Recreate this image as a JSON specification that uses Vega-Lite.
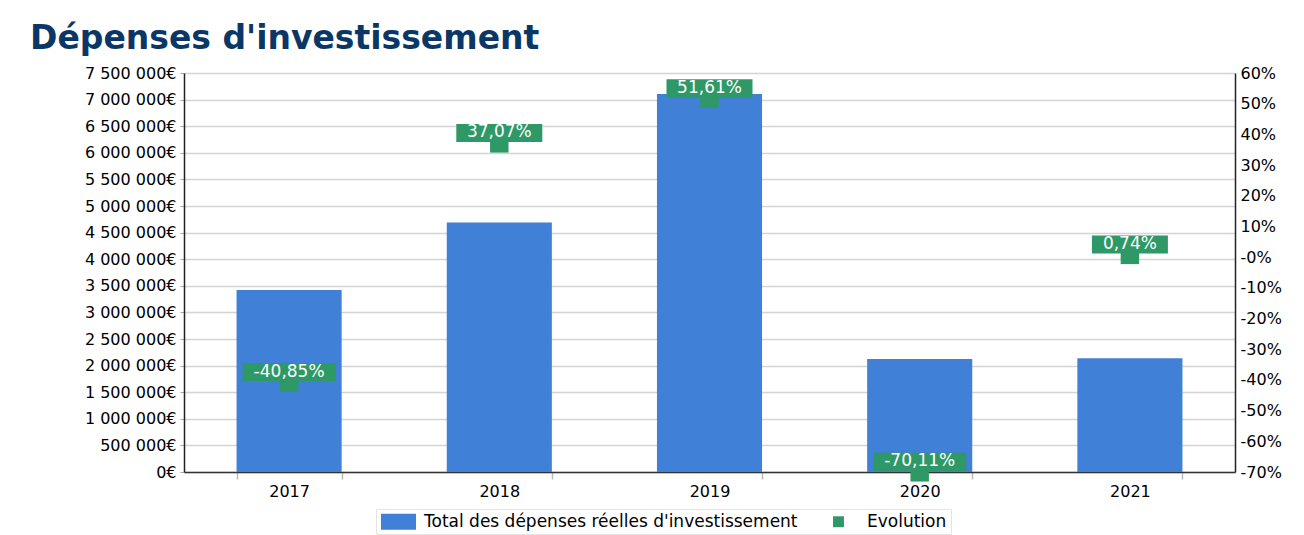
{
  "$schema": "https://vega.github.io/schema/vega-lite/v6.json",
  "autosize": {"type": "none"},
  "width": 1051,
  "height": 399,
  "padding": {"left": 184, "top": 73, "right": 69, "bottom": 63},
  "background": "white",
  "title": {
    "text": "Dépenses d'investissement",
    "anchor": "start",
    "frame": "group",
    "font": "DejaVu Sans",
    "fontSize": 33,
    "fontWeight": "bold",
    "color": "#0b3766",
    "dx": -154,
    "offset": 9
  },
  "data": {
    "values": [
      {"annee": "2017", "total": 3420000, "evo": -40.85, "label": "-40,85%"},
      {"annee": "2018", "total": 4688000, "evo": 37.07, "label": "37,07%"},
      {"annee": "2019", "total": 7107000, "evo": 51.61, "label": "51,61%"},
      {"annee": "2020", "total": 2124000, "evo": -70.11, "label": "-70,11%"},
      {"annee": "2021", "total": 2140000, "evo": 0.74, "label": "0,74%"}
    ]
  },
  "encoding": {
    "x": {
      "field": "annee",
      "type": "nominal",
      "scale": {"paddingInner": 0.5, "paddingOuter": 0.25},
      "axis": {
        "title": null,
        "labelAngle": 0,
        "labelFont": "DejaVu Sans",
        "labelFontSize": 16,
        "labelColor": "#000000",
        "labelPadding": 4,
        "domainColor": "#333333",
        "domainWidth": 1.5,
        "tickBand": "extent",
        "tickColor": "#bbbbbb",
        "tickSize": 7,
        "tickWidth": 1.5,
        "grid": false
      }
    }
  },
  "layer": [
    {
      "mark": {"type": "bar"},
      "encoding": {
        "y": {
          "field": "total",
          "type": "quantitative",
          "scale": {"domain": [0, 7500000], "nice": false},
          "axis": {
            "title": null,
            "orient": "left",
            "values": [0, 500000, 1000000, 1500000, 2000000, 2500000, 3000000, 3500000, 4000000, 4500000, 5000000, 5500000, 6000000, 6500000, 7000000, 7500000],
            "format": "$,.0f",
            "labelOverlap": false,
            "labelFont": "DejaVu Sans",
            "labelFontSize": 16,
            "labelColor": "#000000",
            "labelPadding": 4,
            "tickSize": 4,
            "tickColor": "#aaaaaa",
            "domainColor": "#222222",
            "domainWidth": 1.5,
            "grid": true,
            "gridColor": "#d4d4d4",
            "gridWidth": 1.5
          }
        },
        "color": {
          "datum": "Total des dépenses réelles d'investissement",
          "type": "nominal",
          "scale": {
            "domain": ["Total des dépenses réelles d'investissement", "Evolution"],
            "range": ["#4080d6", "#2e9966"]
          },
          "legend": {
            "title": null,
            "orient": "none",
            "legendX": 192,
            "legendY": 436,
            "direction": "horizontal",
            "strokeColor": "#e4e4e4",
            "padding": 4,
            "labelFont": "DejaVu Sans",
            "labelFontSize": 17,
            "labelColor": "#000000",
            "labelLimit": 0,
            "labelOffset": 27,
            "columnPadding": 25,
            "symbolSize": 225,
            "symbolStrokeWidth": 0,
            "encode": {
              "symbols": {
                "update": {
                  "shape": [
                    {"test": "datum.value === 'Evolution'", "value": "M0.2,-0.73H1.66V0.73H0.2Z"},
                    {"value": "M-1,-1.07H3.67V1.07H-1Z"}
                  ],
                  "strokeWidth": {"value": 0}
                }
              }
            }
          }
        }
      }
    },
    {
      "encoding": {
        "y": {
          "field": "evo",
          "type": "quantitative",
          "scale": {"domain": [-70, 60], "nice": false, "zero": false},
          "axis": {
            "title": null,
            "orient": "right",
            "values": [-70, -60, -50, -40, -30, -20, -10, 0, 10, 20, 30, 40, 50, 60],
            "labelExpr": "datum.value === 0 ? '-0%' : format(datum.value, 'd') + '%'",
            "labelOverlap": false,
            "labelSeparation": 0,
            "labelFont": "DejaVu Sans",
            "labelFontSize": 16,
            "labelColor": "#000000",
            "labelPadding": 5,
            "tickSize": 0,
            "domainColor": "#222222",
            "domainWidth": 1.5,
            "grid": false
          }
        }
      },
      "layer": [
        {
          "mark": {"type": "point", "shape": "square", "filled": true, "opacity": 1, "size": 340},
          "encoding": {
            "color": {"datum": "Evolution", "type": "nominal"}
          }
        },
        {
          "transform": [{"calculate": "length(datum.label)", "as": "len"}],
          "mark": {"type": "point", "filled": true, "opacity": 1, "size": 10000, "color": "#2e9966"},
          "encoding": {
            "shape": {
              "field": "len",
              "type": "nominal",
              "scale": {
                "domain": [5, 6, 7],
                "range": ["M-0.76,-0.39H0.76V-0.03H-0.76Z", "M-0.86,-0.39H0.86V-0.03H-0.86Z", "M-0.93,-0.39H0.93V-0.03H-0.93Z"]
              },
              "legend": null
            }
          }
        },
        {
          "mark": {"type": "text", "color": "white", "font": "DejaVu Sans", "fontSize": 17, "dy": -11, "baseline": "middle", "align": "center"},
          "encoding": {
            "text": {"field": "label", "type": "nominal"}
          }
        }
      ]
    }
  ],
  "resolve": {"scale": {"y": "independent"}},
  "config": {
    "view": {"stroke": null},
    "locale": {
      "number": {"decimal": ",", "thousands": " ", "grouping": [3], "currency": ["", "€"], "minus": "-"}
    }
  }
}
